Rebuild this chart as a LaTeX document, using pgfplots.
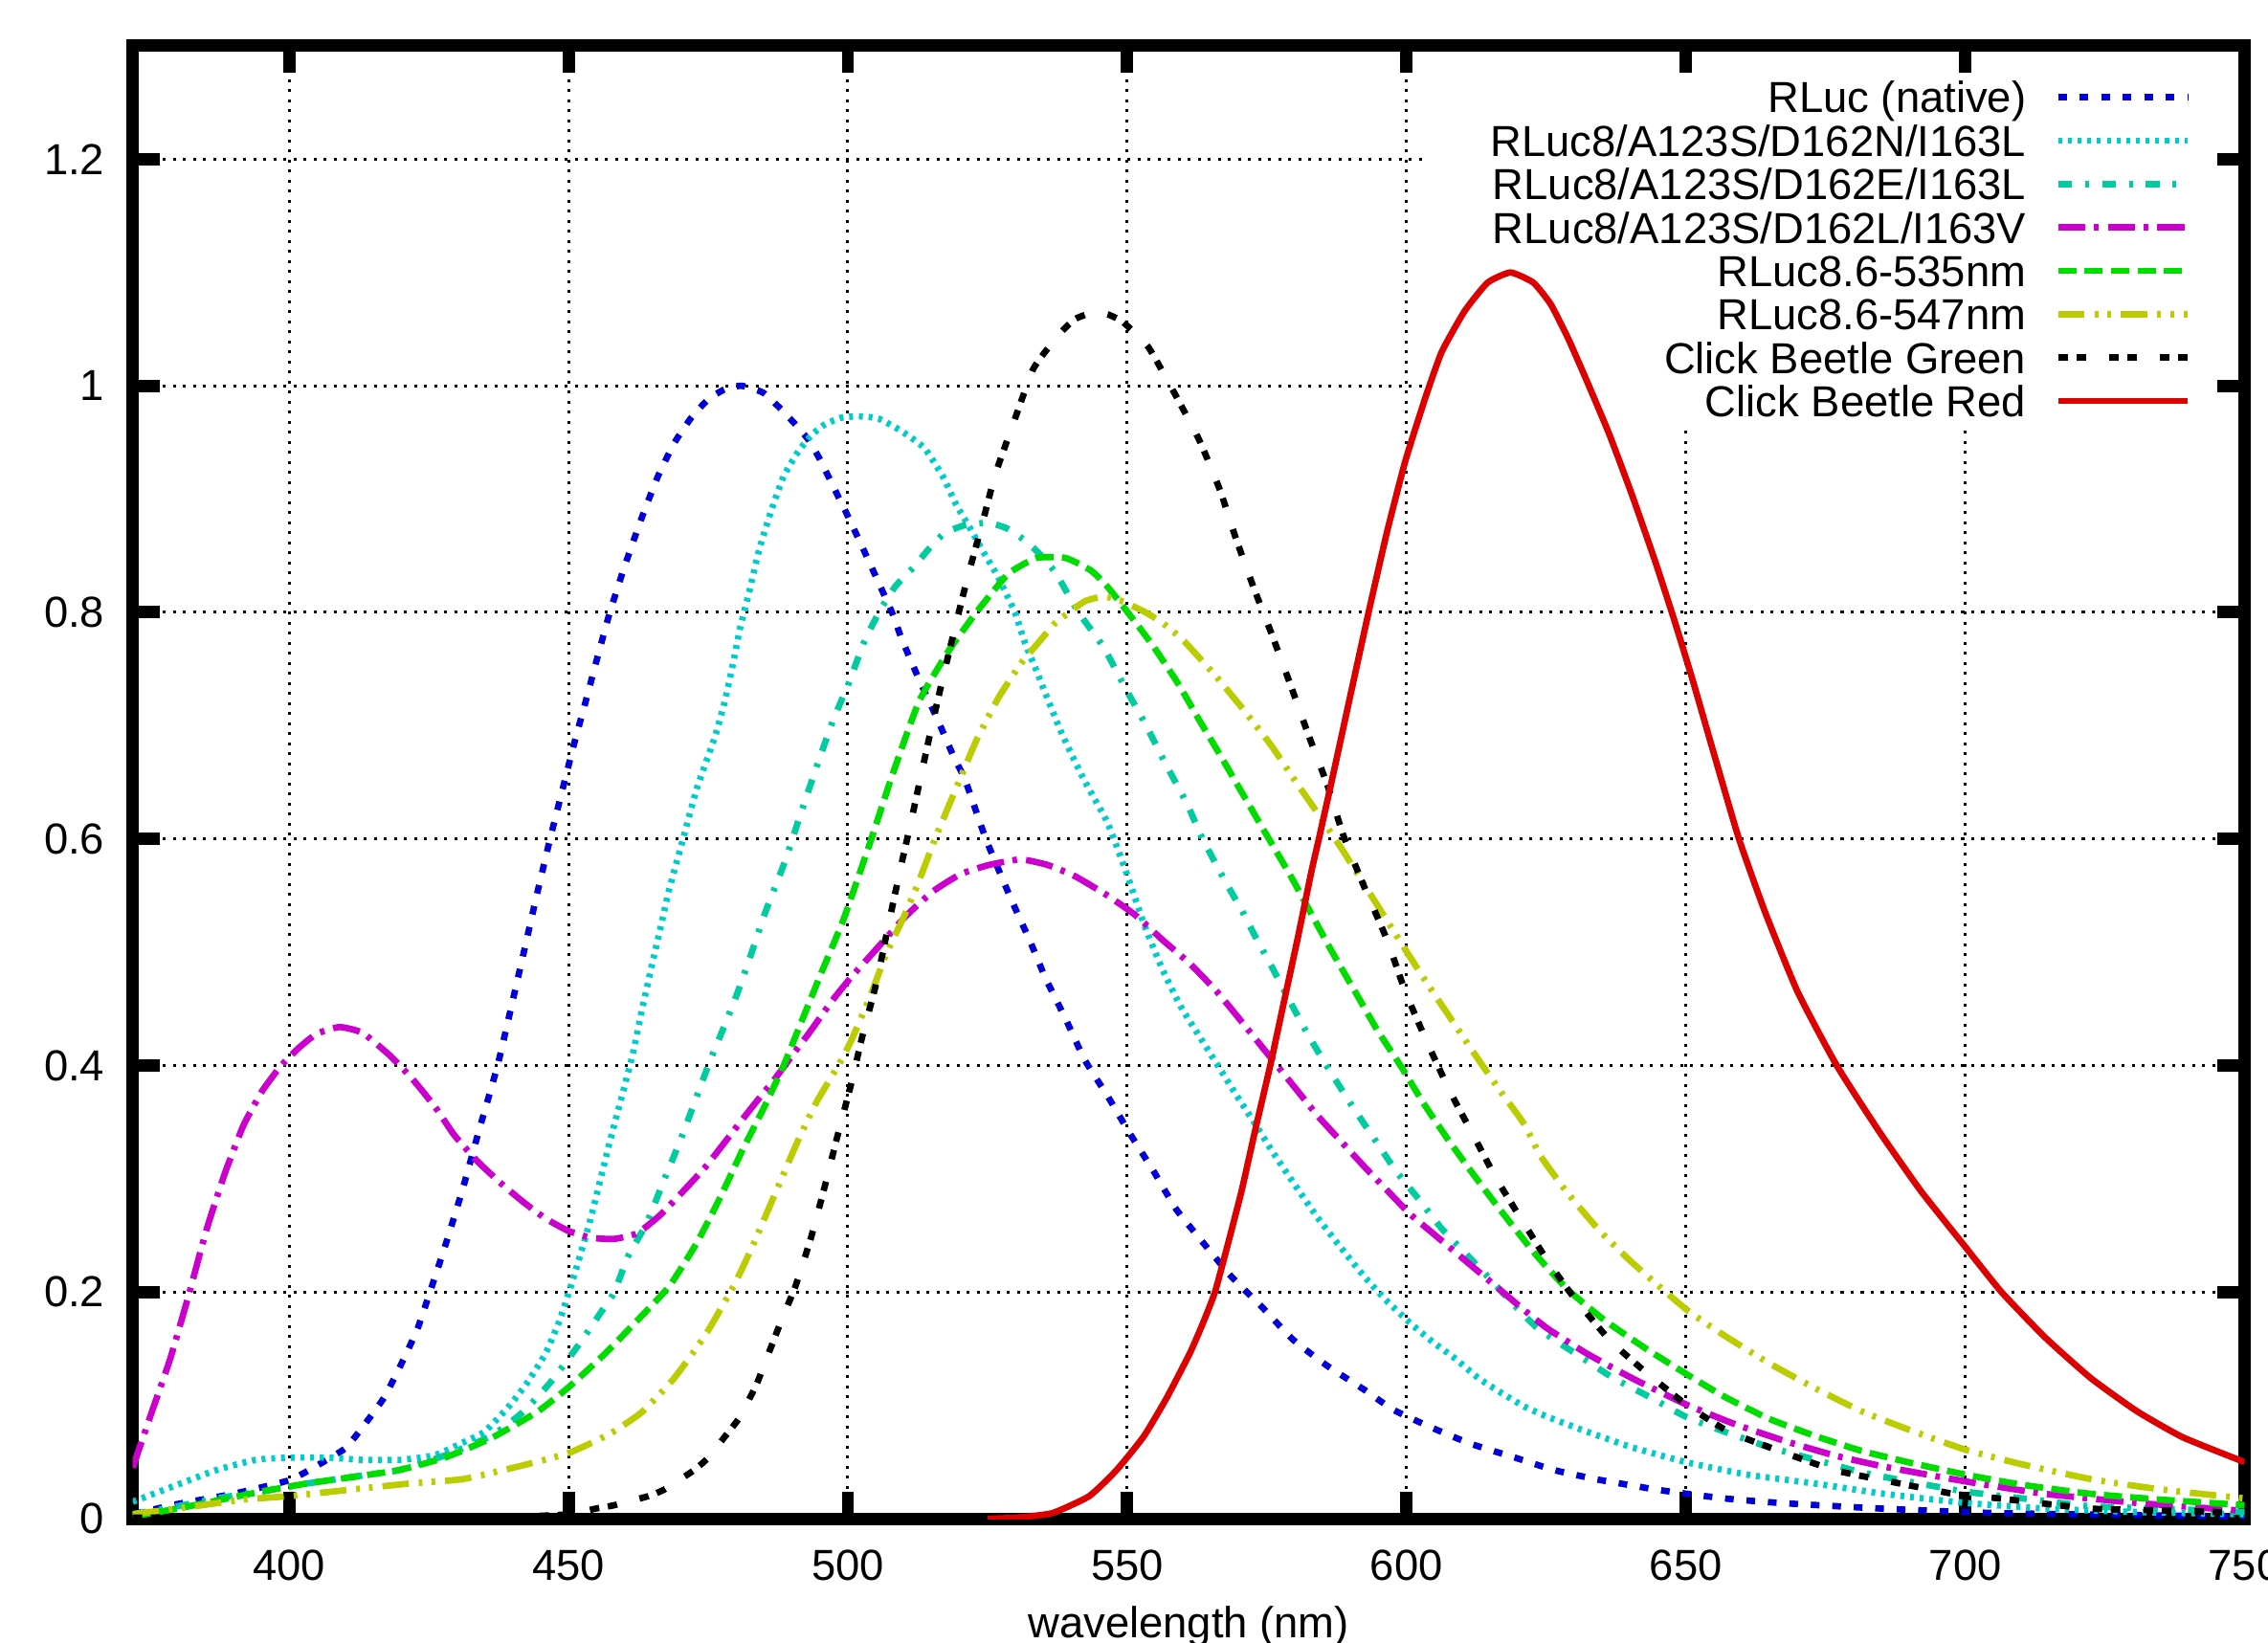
\documentclass[border=0pt]{standalone}
\usepackage{fontspec}
\setmainfont{Liberation Sans}
\usepackage{pgfplots}
\pgfplotsset{compat=1.18}

\definecolor{cnat}{RGB}{0,0,215}
\definecolor{cdn}{RGB}{0,204,204}
\definecolor{cde}{RGB}{0,204,160}
\definecolor{cdl}{RGB}{204,0,204}
\definecolor{cfive}{RGB}{0,220,0}
\definecolor{cseven}{RGB}{187,204,0}
\definecolor{ccbg}{RGB}{0,0,0}
\definecolor{ccbr}{RGB}{220,0,0}

\tikzset{gridline/.style={black, line width=0.7pt, dash pattern=on 0.7pt off 1.73pt}}

\begin{document}
\begin{tikzpicture}[font=\fontsize{10.5}{12.6}\selectfont]
\begin{axis}[
    scale only axis,
    width=17.952cm, height=12.521cm,
    xmin=372, xmax=750,
    ymin=0, ymax=1.3,
    xtick={400,450,500,550,600,650,700,750},
    ytick={0,0.2,0.4,0.6,0.8,1,1.2},
    tick align=inside,
    major tick length=0.232cm,
    tick style={black, line width=3pt},
    axis line style={line width=3pt, line join=miter},
    /pgf/number format/assume math mode=true,
    yticklabel style={anchor=east, inner sep=0pt, xshift=-0.233cm},
    xticklabel style={anchor=north, inner sep=0pt, yshift=-0.255cm},
    xlabel={wavelength (nm)},
    xlabel style={at={(axis description cs:0.5,0)}, anchor=north, inner sep=0pt, yshift=-0.74cm},
    every axis plot/.append style={line width=1.55pt, line join=round, smooth, tension=0.3},
    legend cell align=right,
    legend plot pos=right,
    legend image code/.code={\draw[#1] (0cm,0cm) -- (1.1cm,0cm);},
    legend style={draw=none, fill=none, at={(0.9749,0.9805)}, anchor=north east,
        inner sep=0pt, row sep=0pt, column sep=0.245cm,
        nodes={inner sep=0pt, text height=9.05pt, text depth=1.45pt}},
]

% grid, left open where the key sits
\draw[gridline] (axis cs:400,0) -- (axis cs:400,1.3);
\draw[gridline] (axis cs:450,0) -- (axis cs:450,1.3);
\draw[gridline] (axis cs:500,0) -- (axis cs:500,1.3);
\draw[gridline] (axis cs:550,0) -- (axis cs:550,1.3);
\draw[gridline] (axis cs:600,0) -- (axis cs:600,1.3);
\draw[gridline] (axis cs:650,0) -- (axis cs:650,0.966);
\draw[gridline] (axis cs:700,0) -- (axis cs:700,0.966);
\draw[gridline] (axis cs:372,0.2) -- (axis cs:750,0.2);
\draw[gridline] (axis cs:372,0.4) -- (axis cs:750,0.4);
\draw[gridline] (axis cs:372,0.6) -- (axis cs:750,0.6);
\draw[gridline] (axis cs:372,0.8) -- (axis cs:750,0.8);
\draw[gridline] (axis cs:372,1.0) -- (axis cs:603.4,1.0);
\draw[gridline] (axis cs:372,1.2) -- (axis cs:603.4,1.2);

% RLuc (native)
\addplot[cnat, dash pattern=on 2.1pt off 3.1pt] coordinates {
(372,0.004) (380,0.013) (390,0.022) (400,0.034) (405,0.047) (410,0.062)
(413,0.08) (417,0.107) (420.5,0.141) (423,0.168) (425.2,0.2) (428,0.242)
(431,0.29) (434,0.343) (437.3,0.4) (440,0.457) (442,0.5) (444.3,0.55)
(446.7,0.6) (449,0.645) (451,0.684) (453,0.72) (455,0.757) (457.4,0.8)
(460,0.84) (463,0.882) (466,0.92) (469,0.95) (472,0.972) (475,0.988)
(478,0.997) (481,1.0) (484.8,0.994) (487.7,0.981) (490.6,0.966)
(493,0.952) (495,0.935) (497.5,0.91) (500,0.885) (503.4,0.849) (507.9,0.8)
(509.6,0.777) (512.9,0.739) (516,0.706) (519,0.672) (521,0.652) (524.7,0.6)
(529.3,0.546) (532.5,0.511) (535.4,0.477) (539,0.441) (542.4,0.405)
(546.5,0.373) (550.6,0.339) (554.7,0.307) (558.8,0.273) (563.7,0.243)
(568.6,0.214) (574.3,0.186) (579.7,0.158) (585.8,0.135) (592.4,0.114)
(597.7,0.096) (604.7,0.08) (611.6,0.066) (619.4,0.054) (626.4,0.043)
(633.8,0.035) (639.6,0.03) (645.7,0.025) (656.8,0.018) (666.7,0.014)
(685,0.009) (706,0.005) (750,0.002)
};
\addlegendentry{RLuc (native)}

% RLuc8/A123S/D162N/I163L
\addplot[cdn, dash pattern=on 0.95pt off 1.4pt] coordinates {
(372,0.015) (380,0.03) (387,0.043) (394,0.052) (400,0.054) (407,0.054)
(413,0.052) (420,0.052) (426,0.056) (431,0.067) (435,0.077) (439.3,0.099)
(442.6,0.12) (445.9,0.146) (448.4,0.175) (450.4,0.205) (452,0.231)
(453.7,0.26) (455.7,0.299) (457.4,0.333) (459.4,0.37) (461.5,0.41)
(463.1,0.448) (464.8,0.486) (466.4,0.52) (468,0.555) (470.5,0.6)
(473,0.645) (476.2,0.69) (477.9,0.72) (479.5,0.756) (480.7,0.786)
(482.4,0.819) (484,0.853) (486.1,0.887) (488.5,0.92) (491,0.941)
(493.4,0.956) (495.9,0.966) (499,0.972) (502.2,0.973) (505.5,0.971)
(509.6,0.96) (513.7,0.945) (517,0.92) (519.4,0.895) (521.9,0.874)
(524.3,0.853) (526.8,0.832) (529.9,0.8) (531.7,0.773) (533.8,0.748)
(535.8,0.723) (538.3,0.693) (540.3,0.672) (542.4,0.651) (546.5,0.614)
(549.8,0.571) (553,0.525) (556.3,0.485) (559.6,0.452) (562.9,0.426)
(566.1,0.401) (569.4,0.375) (572.7,0.35) (576,0.324) (580.1,0.294)
(584.2,0.265) (588.3,0.239) (592.4,0.214) (596.5,0.192) (600.6,0.173)
(604.7,0.156) (608.8,0.141) (612.9,0.124) (617,0.111) (621.1,0.099)
(625.2,0.09) (632.2,0.077) (640.4,0.063) (650,0.05) (660.9,0.039)
(673.2,0.031) (685.5,0.022) (700,0.014) (714.3,0.009) (730.7,0.006)
(750,0.004)
};
\addlegendentry{RLuc8/A123S/D162N/I163L}

% RLuc8/A123S/D162E/I163L
\addplot[cde, dash pattern=on 3.3pt off 3.2pt on 0.9pt off 3.2pt] coordinates {
(372,0.004) (380,0.011) (387,0.018) (395,0.024) (403,0.031) (411.5,0.037)
(419.7,0.043) (427.9,0.056) (436.1,0.073) (441.8,0.094) (446.7,0.12)
(451.6,0.152) (456.6,0.188) (458.2,0.2) (460.7,0.232) (463.9,0.26)
(467.2,0.3) (470.1,0.335) (472.9,0.372) (475.4,0.405) (477.9,0.435)
(480.3,0.465) (482.8,0.5) (485.2,0.535) (488.8,0.581) (491.6,0.623)
(494.5,0.665) (497.3,0.704) (500.2,0.738) (503,0.775) (505.9,0.803)
(508.5,0.823) (511.6,0.839) (514.5,0.856) (517.3,0.87) (521,0.877)
(525.3,0.879) (528.5,0.874) (532.1,0.862) (535,0.848) (537.3,0.834)
(541.3,0.8) (545.8,0.769) (549.8,0.732) (553.3,0.701) (556.7,0.668)
(560.7,0.631) (563.5,0.6) (567.5,0.563) (570.4,0.538) (572.7,0.516)
(576,0.486) (579.3,0.455) (582.5,0.426) (585.8,0.399) (589.9,0.367)
(594,0.337) (598.1,0.307) (602.2,0.282) (606.3,0.256) (610.4,0.235)
(614.5,0.214) (618.6,0.192) (623.5,0.168) (630.5,0.145) (637.1,0.124)
(643.7,0.107) (650,0.09) (656.8,0.077) (665,0.063) (673.2,0.052)
(681.4,0.041) (689.7,0.033) (700,0.024) (710.2,0.018) (722.5,0.011)
(734.8,0.009) (750,0.006)
};
\addlegendentry{RLuc8/A123S/D162E/I163L}

% RLuc8/A123S/D162L/I163V
\addplot[cdl, dash pattern=on 6.6pt off 2.1pt on 1.1pt off 2.2pt] coordinates {
(372,0.045) (375.4,0.094) (378.7,0.141) (382,0.197) (385.2,0.255)
(388.5,0.305) (391.8,0.347) (395.1,0.377) (398.4,0.399) (401.6,0.415)
(404.9,0.428) (409,0.434) (413.1,0.429) (418,0.409) (422.1,0.388)
(426.2,0.363) (429.5,0.339) (433.6,0.316) (437.7,0.297) (441.8,0.28)
(445.9,0.265) (450,0.254) (454.1,0.248) (458.2,0.247) (462.3,0.252)
(466.4,0.268) (470.5,0.289) (474.6,0.311) (478.7,0.337) (482.8,0.363)
(486.9,0.388) (490.2,0.41) (493.4,0.431) (497.3,0.458) (500.6,0.478)
(505.5,0.505) (510.4,0.532) (515.3,0.554) (520.2,0.569) (525.2,0.577)
(530.9,0.582) (535.8,0.577) (540.7,0.567) (546.5,0.55) (551.4,0.533)
(556.3,0.511) (561.2,0.49) (566.1,0.465) (571.1,0.435) (576,0.405)
(580.1,0.38) (584.2,0.355) (588.3,0.333) (592.4,0.311) (596.5,0.29)
(600.6,0.269) (604.7,0.252) (608.8,0.235) (612.9,0.218) (617,0.201)
(621.1,0.184) (625.2,0.168) (632.2,0.146) (640.4,0.124) (650,0.101)
(658.5,0.084) (667.5,0.069) (676.5,0.056) (685.5,0.046) (700,0.033)
(714.3,0.022) (730.7,0.014) (750,0.007)
};
\addlegendentry{RLuc8/A123S/D162L/I163V}

% RLuc8.6-535nm
\addplot[cfive, dash pattern=on 4.4pt off 2pt] coordinates {
(372,0.002) (380,0.009) (387,0.016) (395,0.024) (403,0.031) (411.5,0.037)
(419.7,0.043) (427.9,0.054) (436.1,0.071) (444.3,0.094) (450,0.116)
(456.6,0.146) (462.3,0.175) (468,0.205) (472.9,0.243) (477,0.282)
(481.1,0.325) (485.2,0.365) (488.5,0.4) (491.8,0.44) (495.1,0.48)
(499.3,0.53) (504.2,0.6) (508,0.657) (512.7,0.721) (517.9,0.765)
(523,0.8) (528.7,0.834) (533.8,0.848) (539,0.848) (543.5,0.837)
(546.4,0.823) (550.1,0.8) (554.4,0.772) (559,0.738) (563,0.704)
(566.4,0.676) (571,0.637) (574.3,0.609) (579.3,0.567) (582.5,0.538)
(586.6,0.501) (590.7,0.466) (594.8,0.431) (599.3,0.397) (603,0.367)
(607.1,0.337) (611.2,0.309) (615.3,0.282) (619.4,0.256) (623.5,0.231)
(628.9,0.202) (635.5,0.175) (642.9,0.15) (650,0.128) (656.8,0.108)
(665,0.088) (673.2,0.073) (681.4,0.06) (689.7,0.05) (700,0.039)
(710.2,0.03) (722.5,0.022) (734.8,0.017) (750,0.012)
};
\addlegendentry{RLuc8.6-535nm}

% RLuc8.6-547nm
\addplot[cseven, dash pattern=on 6.4pt off 2.4pt on 0.9pt off 2.2pt on 0.9pt off 2.4pt] coordinates {
(372,0.004) (383,0.011) (392,0.017) (400,0.02) (411.5,0.026) (421.3,0.031)
(431.1,0.035) (440.9,0.046) (450,0.058) (457.4,0.075) (463.1,0.094)
(468.9,0.124) (474.6,0.163) (479.5,0.205) (482.8,0.239) (486.9,0.286)
(491,0.333) (494.3,0.367) (498.4,0.401) (500.6,0.422) (503.9,0.46)
(507,0.5) (509.9,0.53) (512.5,0.56) (515.6,0.6) (519.4,0.645) (523,0.687)
(527,0.725) (531,0.755) (534.4,0.775) (537,0.79) (539.6,0.8) (542.5,0.81)
(545.8,0.814) (549,0.81) (553.3,0.8) (556.5,0.79) (560.1,0.775)
(565.8,0.744) (571,0.713) (576,0.681) (580.1,0.651) (584.2,0.622)
(588.3,0.592) (592.4,0.56) (596.5,0.528) (600.6,0.496) (604.7,0.465)
(608.8,0.435) (612.9,0.405) (617,0.376) (621.1,0.348) (624,0.32)
(628.9,0.287) (634.6,0.254) (640.4,0.226) (650,0.185) (656.8,0.162)
(665,0.137) (673.2,0.115) (681.4,0.095) (689.7,0.079) (700,0.061)
(710.2,0.048) (722.5,0.035) (734.8,0.026) (750,0.018)
};
\addlegendentry{RLuc8.6-547nm}

% Click Beetle Green
\addplot[ccbg, dash pattern=on 2.3pt off 2.1pt on 2.3pt off 5.6pt] coordinates {
(372,0.001) (400,0.001) (440,0.002) (450,0.004) (454.9,0.009) (458.2,0.012)
(464.3,0.02) (467.2,0.026) (472.5,0.043) (475,0.054) (478.7,0.077)
(480.7,0.09) (483.6,0.118) (484.8,0.133) (488.1,0.175) (490.6,0.205)
(493.4,0.248) (495.9,0.294) (498.1,0.337) (500.6,0.384) (502.6,0.426)
(505.1,0.473) (507.6,0.532) (509.6,0.578) (511.3,0.615) (513,0.654)
(515,0.699) (517.1,0.744) (519.3,0.789) (521.6,0.834) (524.1,0.879)
(526.4,0.922) (529.7,0.968) (533,1.013) (535,1.028) (538.3,1.048)
(540.7,1.059) (543.5,1.064) (546.5,1.063) (549.3,1.056) (553.8,1.034)
(558.4,0.994) (562.9,0.952) (566.6,0.908) (569.4,0.866) (572.7,0.821)
(576,0.779) (579.3,0.735) (582.5,0.691) (585.8,0.648) (588.7,0.603)
(592.4,0.558) (596.5,0.511) (599.8,0.465) (603.9,0.418) (608,0.375)
(612.1,0.337) (616.2,0.299) (621.1,0.26) (625.2,0.228) (629.7,0.197)
(636.3,0.158) (642.9,0.129) (650,0.101) (657.6,0.077) (666.7,0.06)
(676.5,0.043) (686.4,0.033) (697.9,0.022) (706,0.018) (722.5,0.009)
(738.9,0.007) (750,0.005)
};
\addlegendentry{Click Beetle Green}

% Click Beetle Red
\addplot[ccbr] coordinates {
(525,0) (530.1,0.001) (536.6,0.005) (543.2,0.02) (548.1,0.043) (553,0.073)
(557.1,0.107) (561.2,0.146) (563.5,0.172) (565.7,0.2) (568,0.242)
(570.5,0.29) (573,0.345) (575.6,0.4) (578,0.455) (580.5,0.512)
(583,0.572) (584.3,0.6) (587,0.66) (590,0.728) (593.2,0.8) (596.5,0.871)
(599.8,0.934) (603.4,0.99) (606.3,1.03) (610.4,1.066) (614.5,1.091)
(618.6,1.1) (622.7,1.091) (625.8,1.072) (628.9,1.042) (632.2,1.005)
(636.3,0.957) (640.4,0.903) (644.5,0.845) (647.8,0.795) (651.1,0.742)
(655.2,0.672) (659.5,0.6) (664.2,0.535) (670,0.465) (677,0.4)
(684.7,0.341) (692.1,0.289) (700,0.24) (706.5,0.2) (714.3,0.16)
(722.5,0.124) (730.7,0.095) (738.9,0.072) (750,0.05)
};
\addlegendentry{Click Beetle Red}

\end{axis}
\pgfresetboundingbox
\path[use as bounding box] (-1.128,-1.048) rectangle (18.151,12.911);
\end{tikzpicture}
\end{document}
